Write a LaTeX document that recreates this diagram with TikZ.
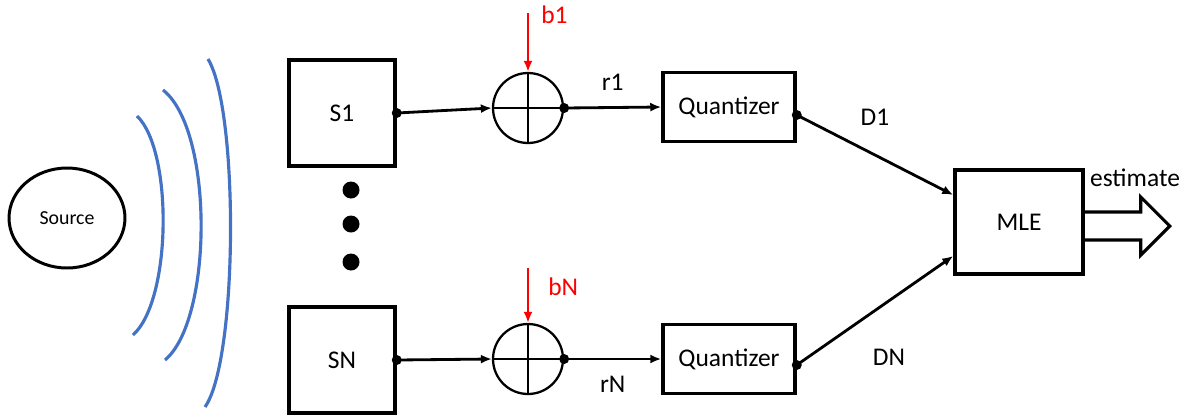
\documentclass[tikz,border=0pt]{standalone}
\usepackage{fontspec}
\setmainfont{Carlito}
\usetikzlibrary{arrows.meta,positioning,calc,shapes.geometric}
\definecolor{waveblue}{RGB}{68,114,196}
\newcommand{\lblfont}{\fontsize{14.5}{17}\selectfont}
\newcommand{\srcfont}{\fontsize{11.3}{13}\selectfont}

\begin{document}
\begin{tikzpicture}[
  x=0.02cm, y=-0.02cm,
  sensor/.style={draw, line width=2pt, minimum width=2.12cm, minimum height=2.12cm,
                 inner sep=0pt, font=\lblfont},
  quant/.style={draw, line width=2pt, minimum width=2.64cm, minimum height=1.38cm,
                inner sep=0pt, font=\lblfont},
  adder/.style={draw, circle, line width=1.3pt, minimum size=1.4cm, inner sep=0pt,
                path picture={\draw[line width=1.3pt]
                  (path picture bounding box.north) -- (path picture bounding box.south)
                  (path picture bounding box.west) -- (path picture bounding box.east);}},
  arr/.style={-{Latex[length=0.22cm, width=0.18cm]}, line width=1.6pt},
  noise/.style={-{Latex[length=0.22cm, width=0.18cm]}, line width=1.6pt, red},
  wave/.style={waveblue, line width=1.8pt},
  font=\lblfont
]
\useasboundingbox (0,0) rectangle (1202,417);

\node[draw, ellipse, line width=1.7pt, minimum width=2.32cm, minimum height=2cm,
      inner sep=0pt, font=\srcfont] (src) at (67,218) {Source};

% wavefronts
\draw[wave] (137,116) .. controls (173,150) and (172,300) .. (133,335);
\draw[wave] (163,90) .. controls (214,130) and (213,320) .. (165,360);
\draw[wave] (208,59) .. controls (239,110) and (238,360) .. (205,407);

\node[sensor] (s1) at (342,113) {S1};
\node[sensor] (sN) at (342,360) {SN};
\foreach \y in {190,224,262}
  \fill (351,\y) circle[radius=8.5];

\node[adder] (add1) at (528,108) {};
\node[adder] (addN) at (528,359) {};
\coordinate (b1in) at (528,13);
\coordinate (bNin) at (528,268);

\node[quant] (q1) at (729,107) {Quantizer};
\node[quant] (qN) at (729,359) {Quantizer};
\node[draw, line width=2pt, minimum width=2.56cm, minimum height=2.08cm,
      inner sep=0pt] (mle) at (1019,222) {MLE};
\node (est) at (1135,178) {estimate};

\draw[arr] (s1.east) -- (add1.west);
\draw[arr] (sN.east) -- (addN.west);
\draw[noise] (b1in) -- node[pos=0.03, right, xshift=0.12cm]{b1} (add1.north);
\draw[noise] (bNin) -- node[pos=0.34, right, xshift=0.26cm]{bN} (addN.north);
\draw[arr] (add1.east) -- node[above=0.2cm]{r1} (q1.west);
\draw[arr] (addN.east) -- node[below=0.2cm]{rN} (qN.west);
\draw[arr] ([yshift=-0.16cm]q1.east) -- node[above=0.45cm]{D1} ([yshift=0.54cm]mle.west);
\draw[arr] ([yshift=-0.12cm]qN.east) -- node[below=0.62cm, xshift=0.28cm]{DN} ([yshift=-0.68cm]mle.west);

\fill (s1.east) circle[radius=5];
\fill (sN.east) circle[radius=5];
\fill (add1.east) circle[radius=5];
\fill (addN.east) circle[radius=5];
\fill ([yshift=-0.16cm]q1.east) circle[radius=5];
\fill ([yshift=-0.12cm]qN.east) circle[radius=5];

% output arrow
\draw[line width=1.8pt, line join=miter]
  ($(mle.east)+(0,-10)$) -- ++(56,0) -- ++(0,-15) -- ++(29,29) -- ++(-29,29)
  -- ++(0,-15) -- ++(-56,0);
\end{tikzpicture}
\end{document}
